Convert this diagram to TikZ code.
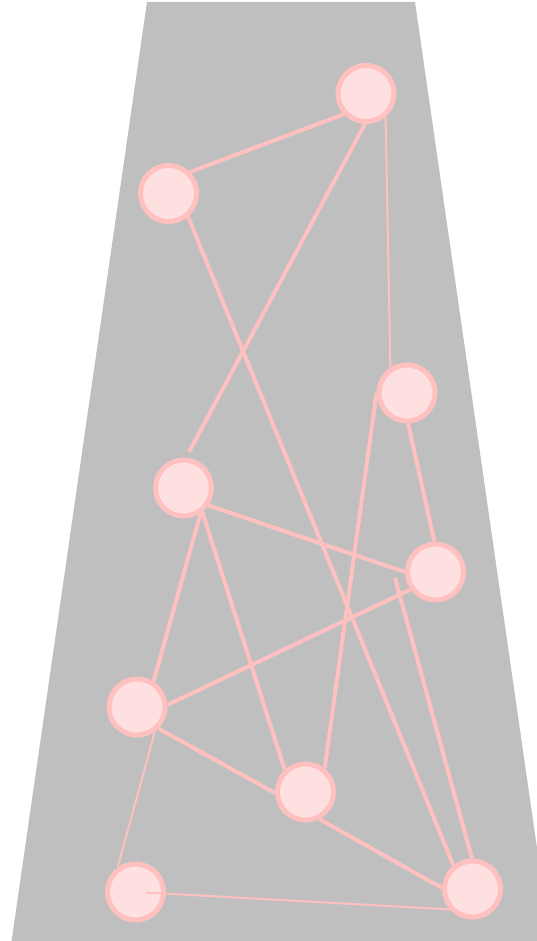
\documentclass[tikz,border=0pt]{standalone}
\begin{document}
\begin{tikzpicture}[x=1pt,y=-1pt,
  vtx/.style={circle,draw=edgepink,fill=nodefill,line width=5pt,minimum size=56pt,inner sep=0pt},
  thickedge/.style={draw=edgepink,line width=4pt},
  thinedge/.style={draw=edgepink,line width=2pt}]
\definecolor{edgepink}{RGB}{255,192,192}
\definecolor{nodefill}{RGB}{255,224,224}
\definecolor{bggray}{RGB}{191,191,191}
\useasboundingbox (0,0) rectangle (537,941);
\begin{scope}
\clip (0,0) rectangle (537,941);
\fill[bggray] (147,2) -- (415,2) -- (551,945) -- (11,945) -- cycle;
\end{scope}
\node[vtx] (A) at (366,93.5) {};
\node[vtx] (B) at (168.5,193.5) {};
\node[vtx] (C) at (407,393) {};
\node[vtx] (D) at (183.5,488) {};
\node[vtx] (E) at (435.5,572) {};
\node[vtx] (F) at (137,707) {};
\node[vtx] (G) at (305.5,792) {};
\node[vtx] (H) at (135.5,892) {};
\node[vtx] (I) at (472.5,889) {};
\coordinate (dend) at (189,452);
\coordinate (estart) at (395,578);
\coordinate (hstart) at (146,892.5);
\draw[thickedge] (A.223) -- (B.45);
\draw[thinedge] (A.-50) -- (C.123);
\draw[thickedge] (A.-92) -- (dend);
\draw[thickedge] (B.-50) -- (I.129);
\draw[thickedge] (C.-88) -- (E.92);
\draw[thickedge] (C.180) -- (G.51);
\draw[thickedge] (D.-35) -- (E.180);
\draw[thickedge] (E.215) -- (F.4);
\draw[thickedge] (estart) -- (I.91);
\draw[thickedge] (D.-56) -- (F.57);
\draw[thickedge] (D.-52) -- (G.133);
\draw[thickedge] (F.-45) -- (G.182);
\draw[thickedge] (G.-63) -- (I.178);
\draw[thinedge] (F.-54) -- (H.126);
\draw[thinedge] (hstart) -- (I.222);
\end{tikzpicture}
\end{document}
